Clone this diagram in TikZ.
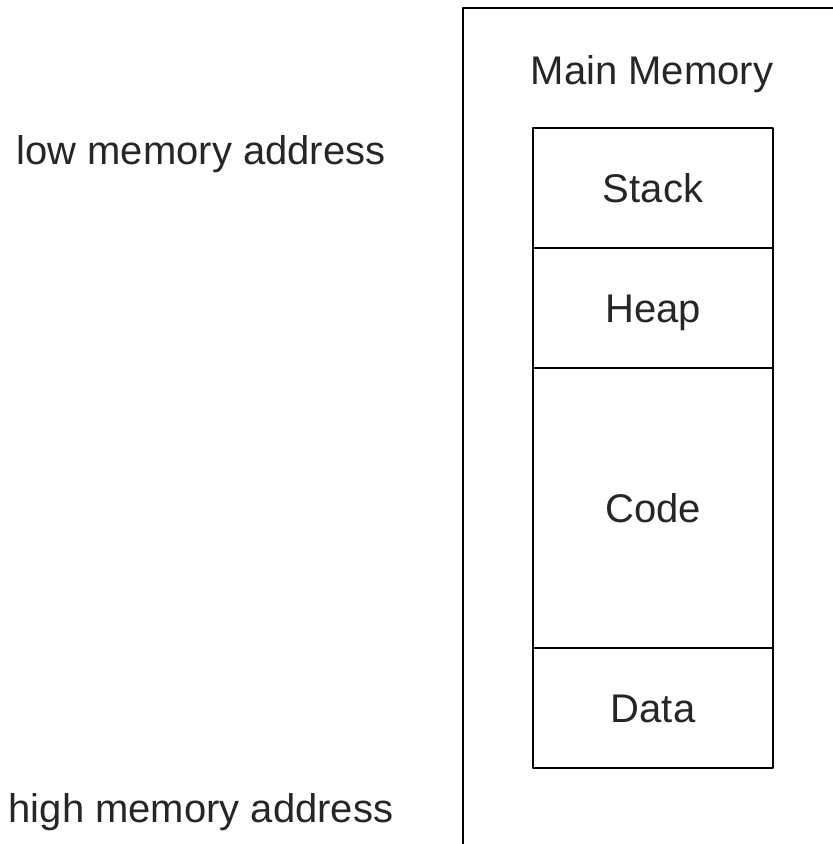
\documentclass[tikz,border=0pt]{standalone}
\usepackage{fontspec}
\setmainfont{Liberation Sans}
\usetikzlibrary{positioning}
\begin{document}
\begin{tikzpicture}[x=0.5pt, y=-0.5pt, font=\fontsize{20}{24}\selectfont, line join=round, line cap=round,
		lbl/.style={text=black!85, text height=14.3pt, text depth=0pt},
		seg/.style={draw, lbl, line width=1pt, minimum width=120pt, minimum height=60pt, inner sep=0pt, outer sep=0pt}]
				\clip (0,0) rectangle (833,844);
				% outer memory box, cut by the page edge
				\node[draw, line width=1pt, inner sep=0pt, outer sep=0pt, minimum width=190pt, minimum height=422pt, anchor=north west] (mem) at (463,8) {};
				\node[lbl] (memlbl) at (652,70) {Main Memory};
				% segments
				\node[seg, anchor=north] (stack) at (653,128) {Stack};
				\node[seg, below=0pt of stack] (heap) {Heap};
				\node[seg, below=0pt of heap, minimum height=140pt] (code) {Code};
				\node[seg, below=0pt of code] (data) {Data};
				% addresses
				\node[lbl] (low) at (201,150) {low memory address};
				\node[lbl] (high) at (201,808) {high memory address};
		\end{tikzpicture}
\end{document}
